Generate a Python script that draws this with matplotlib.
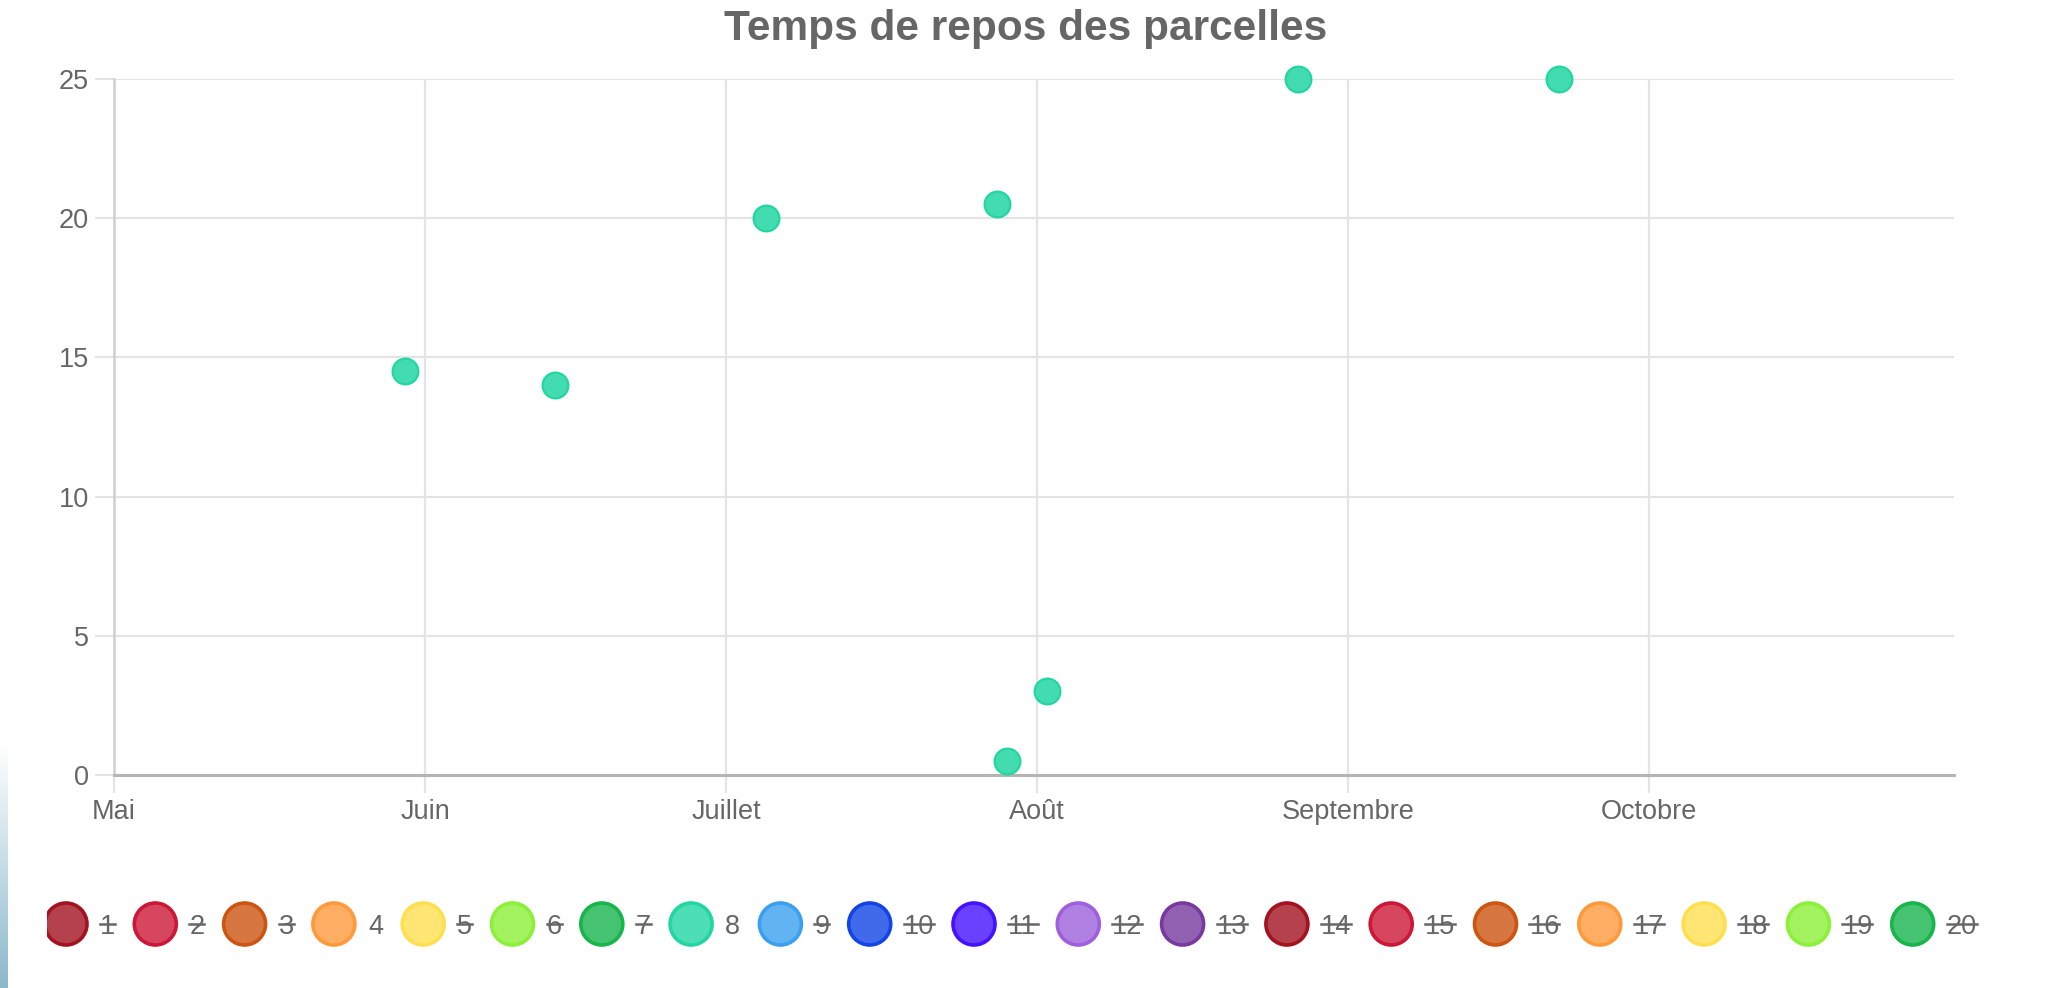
import matplotlib
matplotlib.use('Agg')
import matplotlib.pyplot as plt
import matplotlib.dates as mdates
from matplotlib.patches import Ellipse, Rectangle
from matplotlib.lines import Line2D
from matplotlib.transforms import Affine2D
from matplotlib.colors import to_rgb
import numpy as np
from datetime import datetime

plt.rcParams['font.family'] = ['Liberation Sans', 'DejaVu Sans']

# ---------------- data ----------------
title = 'Temps de repos des parcelles'
month_ticks = ['2021-05-01', '2021-06-01', '2021-07-01', '2021-08-01', '2021-09-01', '2021-10-01']
month_labels = ['Mai', 'Juin', 'Juillet', 'Août', 'Septembre', 'Octobre']
x_start = '2021-05-01'
x_end = '2021-10-31 10:00'
y_ticks = [0, 5, 10, 15, 20, 25]

# visible series "8"
dates = ['2021-05-30', '2021-06-14', '2021-07-05', '2021-07-28',
         '2021-07-29', '2021-08-02', '2021-08-27', '2021-09-22']
values = [14.5, 14, 20, 20.5, 0.5, 3, 25, 25]

series_labels = ['1', '2', '3', '4', '5', '6', '7', '8', '9', '10',
                 '11', '12', '13', '14', '15', '16', '17', '18', '19', '20']
series_hidden = [True, True, True, False, True, True, True, False, True, True,
                 True, True, True, True, True, True, True, True, True, True]
series_colors = ['#a3121f', '#cc1836', '#cc5512', '#ff9a3c', '#ffdf50', '#8cf03a', '#18b44c',
                 '#22d6a2', '#3aa0ee', '#1245e6', '#4412ff', '#9e60dc', '#773a9e',
                 '#a3121f', '#cc1836', '#cc5512', '#ff9a3c', '#ffdf50', '#8cf03a', '#18b44c']
active_index = 7

# ---------------- figure ----------------
W, H = 2052, 988
fig = plt.figure(figsize=(W / 100, H / 100), dpi=100)
fig.patch.set_facecolor('white')
pix = Affine2D().scale(1 / W, -1 / H).translate(0, 1) + fig.transFigure

def lighten(c, a=0.78):
    r, g, b = to_rgb(c)
    return (1 - a + a * r, 1 - a + a * g, 1 - a + a * b)

L, R, T, B = 114, 1954, 79, 775
ax = fig.add_axes([L / W, 1 - B / H, (R - L) / W, (B - T) / H])

xd = mdates.date2num([datetime.fromisoformat(d) for d in dates])
xt = mdates.date2num([datetime.fromisoformat(d) for d in month_ticks])
ax.set_xlim(mdates.date2num(datetime.fromisoformat(x_start)),
            mdates.date2num(datetime.fromisoformat(x_end)))
ax.set_ylim(0, 25)
ax.set_xticks(xt)
ax.set_xticklabels(month_labels)
ax.set_yticks(y_ticks)

grid_c = '#e4e4e4'
ax.grid(True, color=grid_c, lw=1.6)
ax.set_axisbelow(True)
for s in ['top', 'right']:
    ax.spines[s].set_visible(False)
ax.spines['left'].set_color('#cfcfcf')
ax.spines['left'].set_linewidth(1.8)
ax.spines['bottom'].set_color('#b5b5b5')
ax.spines['bottom'].set_linewidth(2.2)
ax.tick_params(axis='both', color=grid_c, width=1.6, labelsize=19.5, labelcolor='#666666')
ax.tick_params(axis='x', length=13, pad=4)
ax.tick_params(axis='y', length=14, pad=4)

c = series_colors[active_index]
ax.scatter(xd, values, s=18.5 ** 2, facecolor=lighten(c, 0.85), edgecolor=c,
           linewidth=1.6, zorder=3, clip_on=False)

# title
fig.text(0.5, 1 - 40 / H, title, ha='center', va='baseline', fontsize=30.5,
         fontweight='bold', color='#666666')

# ---------------- legend ----------------
cy = 924
d = 42
cx = 66
digit_w = 15
clip = Rectangle((47, 0), W, H, transform=pix)
for lab, hid, col in zip(series_labels, series_hidden, series_colors):
    e = Ellipse((cx, cy), d, d, transform=pix, facecolor=lighten(col, 0.8),
                edgecolor=col, linewidth=2.6)
    fig.add_artist(e)
    e.set_clip_path(clip)
    tx = cx + d / 2 + 13
    w = digit_w * len(lab)
    fig.text(tx, cy + 9.5, lab, transform=pix, ha='left', va='baseline',
             fontsize=19.5, color='#666666')
    if hid:
        fig.add_artist(Line2D([tx, tx + w], [cy, cy], transform=pix,
                              color='#666666', lw=1.8))
    cx = cx + d + 13 + w + 19.3

# left decorative strip
grad = np.linspace(0, 1, 200)[:, None]
sax = fig.add_axes([0, 0, 8 / W, (988 - 745) / H])
top = np.array([1.0, 1.0, 1.0])
bot = np.array(to_rgb('#8cb8cc'))
img = top[None, None, :] * (1 - grad[:, :, None]) + bot[None, None, :] * grad[:, :, None]
sax.imshow(img, aspect='auto', extent=[0, 1, 0, 1])
sax.axis('off')

fig.savefig('out.png', dpi=100)
